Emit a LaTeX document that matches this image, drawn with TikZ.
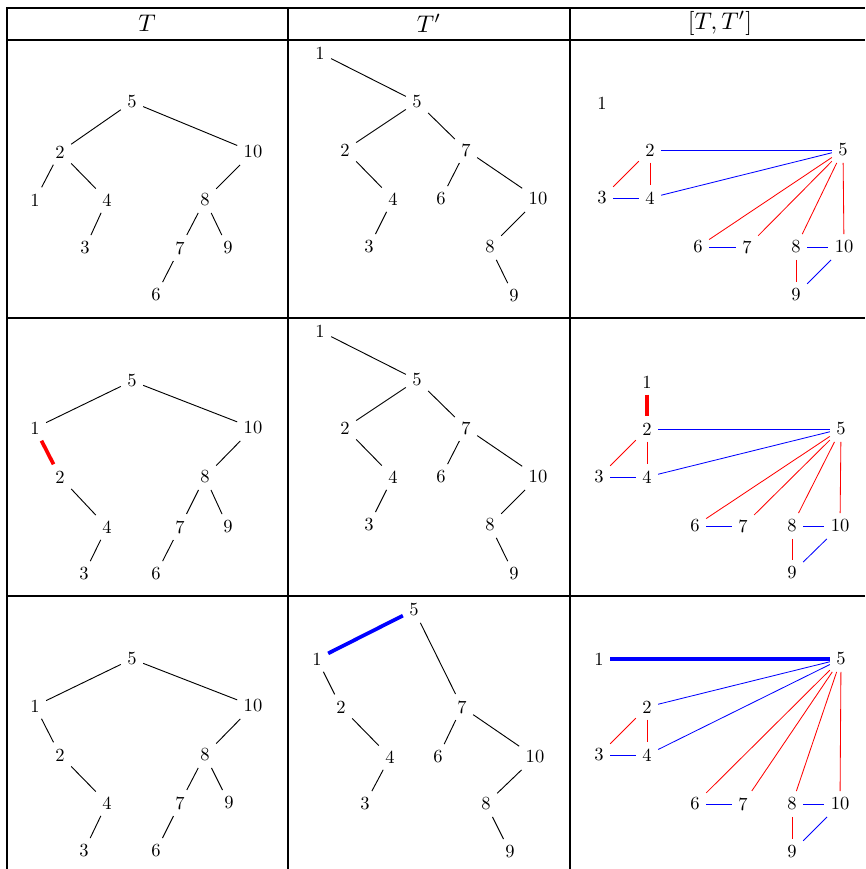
\documentclass[tikz,border=0pt]{standalone}
\begin{document}
\begin{tikzpicture}[x=0.54pt,y=-0.54pt,
  tn/.style={inner sep=0.3333em},
  hd/.style={inner sep=0pt,scale=1.3},
  rule/.style={line width=1pt,black},
  tedge/.style={line width=0.5pt,black},
  redge/.style={line width=0.45pt,red},
  bedge/.style={line width=0.45pt,blue},
  rthick/.style={line width=2pt,red},
  bthick/.style={line width=2pt,blue}]
\useasboundingbox (0,0) rectangle (865,869);
% table rules
\draw[rule] (6,8) -- (865,8);
\draw[rule] (6,40) -- (865,40);
\draw[rule] (6,318) -- (865,318);
\draw[rule] (6,596) -- (865,596);
\draw[rule] (7,8) -- (7,869);
\draw[rule] (288,8) -- (288,869);
\draw[rule] (570,8) -- (570,869);
% headers
\node[hd] (h1) at (147,23) {$T$};
\node[hd] (h2) at (429,23) {$T'$};
\node[hd] (h3) at (720,23) {$[T,T']$};

% ===== Row 1, column 1 =====
\node[tn] (a5) at (132,102) {5};
\node[tn] (a2) at (60,152) {2};
\node[tn] (a10) at (253,152) {10};
\node[tn] (a1) at (35,200) {1};
\node[tn] (a4) at (107,200) {4};
\node[tn] (a8) at (205,200) {8};
\node[tn] (a3) at (85,248) {3};
\node[tn] (a7) at (180,248) {7};
\node[tn] (a9) at (228,248) {9};
\node[tn] (a6) at (156,295) {6};
\draw[tedge] (a5) -- (a2);
\draw[tedge] (a5) -- (a10);
\draw[tedge] (a2) -- (a1);
\draw[tedge] (a2) -- (a4);
\draw[tedge] (a4) -- (a3);
\draw[tedge] (a10) -- (a8);
\draw[tedge] (a8) -- (a7);
\draw[tedge] (a8) -- (a9);
\draw[tedge] (a7) -- (a6);

% ===== Row 1, column 2 =====
\node[tn] (b1) at (320,53) {1};
\node[tn] (b5) at (417,102) {5};
\node[tn] (b2) at (345,150) {2};
\node[tn] (b7) at (466,150) {7};
\node[tn] (b4) at (393,199) {4};
\node[tn] (b6) at (441,199) {6};
\node[tn] (b10) at (538,199) {10};
\node[tn] (b3) at (369,247) {3};
\node[tn] (b8) at (490,247) {8};
\node[tn] (b9) at (514,296) {9};
\draw[tedge] (b1) -- (b5);
\draw[tedge] (b5) -- (b2);
\draw[tedge] (b5) -- (b7);
\draw[tedge] (b2) -- (b4);
\draw[tedge] (b4) -- (b3);
\draw[tedge] (b7) -- (b6);
\draw[tedge] (b7) -- (b10);
\draw[tedge] (b10) -- (b8);
\draw[tedge] (b8) -- (b9);

% ===== Row 1, column 3 =====
\node[tn] (c1) at (602,103) {1};
\node[tn] (c2) at (650,150) {2};
\node[tn] (c5) at (843,150) {5};
\node[tn] (c3) at (602,198) {3};
\node[tn] (c4) at (650,198) {4};
\node[tn] (c6) at (698,247) {6};
\node[tn] (c7) at (747,247) {7};
\node[tn] (c8) at (796,247) {8};
\node[tn] (c10) at (844,247) {10};
\node[tn] (c9) at (796,295) {9};
\draw[bedge] (c2) -- (c5);
\draw[bedge] (c4) -- (c5);
\draw[bedge] (c3) -- (c4);
\draw[redge] (c2) -- (c3);
\draw[redge] (c2) -- (c4);
\draw[redge] (c5) -- (c6);
\draw[redge] (c5) -- (c7);
\draw[redge] (c5) -- (c8);
\draw[redge] (c5) -- (c10);
\draw[bedge] (c6) -- (c7);
\draw[bedge] (c8) -- (c10);
\draw[bedge] (c9) -- (c10);
\draw[redge] (c8) -- (c9);

% ===== Row 2, column 1 =====
\node[tn] (d5) at (132,381) {5};
\node[tn] (d1) at (35,428) {1};
\node[tn] (d10) at (253,428) {10};
\node[tn] (d2) at (60,477) {2};
\node[tn] (d8) at (205,477) {8};
\node[tn] (d4) at (107,527) {4};
\node[tn] (d7) at (180,527) {7};
\node[tn] (d9) at (228,527) {9};
\node[tn] (d3) at (84,574) {3};
\node[tn] (d6) at (156,574) {6};
\draw[tedge] (d5) -- (d1);
\draw[tedge] (d5) -- (d10);
\draw[rthick] (d1) -- (d2);
\draw[tedge] (d2) -- (d4);
\draw[tedge] (d4) -- (d3);
\draw[tedge] (d10) -- (d8);
\draw[tedge] (d8) -- (d7);
\draw[tedge] (d8) -- (d9);
\draw[tedge] (d7) -- (d6);

% ===== Row 2, column 2 =====
\node[tn] (e1) at (320,331) {1};
\node[tn] (e5) at (417,380) {5};
\node[tn] (e2) at (345,428) {2};
\node[tn] (e7) at (466,428) {7};
\node[tn] (e4) at (393,477) {4};
\node[tn] (e6) at (441,477) {6};
\node[tn] (e10) at (538,477) {10};
\node[tn] (e3) at (369,525) {3};
\node[tn] (e8) at (490,525) {8};
\node[tn] (e9) at (514,574) {9};
\draw[tedge] (e1) -- (e5);
\draw[tedge] (e5) -- (e2);
\draw[tedge] (e5) -- (e7);
\draw[tedge] (e2) -- (e4);
\draw[tedge] (e4) -- (e3);
\draw[tedge] (e7) -- (e6);
\draw[tedge] (e7) -- (e10);
\draw[tedge] (e10) -- (e8);
\draw[tedge] (e8) -- (e9);

% ===== Row 2, column 3 =====
\node[tn] (f1) at (647,382) {1};
\node[tn] (f2) at (647,429) {2};
\node[tn] (f5) at (841,429) {5};
\node[tn] (f3) at (599,477) {3};
\node[tn] (f4) at (647,477) {4};
\node[tn] (f6) at (695,526) {6};
\node[tn] (f7) at (743,526) {7};
\node[tn] (f8) at (792,526) {8};
\node[tn] (f10) at (840,526) {10};
\node[tn] (f9) at (792,573) {9};
\draw[rthick] (f1) -- (f2);
\draw[bedge] (f2) -- (f5);
\draw[bedge] (f4) -- (f5);
\draw[bedge] (f3) -- (f4);
\draw[redge] (f2) -- (f3);
\draw[redge] (f2) -- (f4);
\draw[redge] (f5) -- (f6);
\draw[redge] (f5) -- (f7);
\draw[redge] (f5) -- (f8);
\draw[redge] (f5) -- (f10);
\draw[bedge] (f6) -- (f7);
\draw[bedge] (f8) -- (f10);
\draw[bedge] (f9) -- (f10);
\draw[redge] (f8) -- (f9);

% ===== Row 3, column 1 =====
\node[tn] (g5) at (132,659) {5};
\node[tn] (g1) at (35,706) {1};
\node[tn] (g10) at (253,706) {10};
\node[tn] (g2) at (60,755) {2};
\node[tn] (g8) at (205,755) {8};
\node[tn] (g4) at (107,803) {4};
\node[tn] (g7) at (180,803) {7};
\node[tn] (g9) at (229,803) {9};
\node[tn] (g3) at (84,851) {3};
\node[tn] (g6) at (156,851) {6};
\draw[tedge] (g5) -- (g1);
\draw[tedge] (g5) -- (g10);
\draw[tedge] (g1) -- (g2);
\draw[tedge] (g2) -- (g4);
\draw[tedge] (g4) -- (g3);
\draw[tedge] (g10) -- (g8);
\draw[tedge] (g8) -- (g7);
\draw[tedge] (g8) -- (g9);
\draw[tedge] (g7) -- (g6);

% ===== Row 3, column 2 =====
\node[tn] (h5) at (414,610) {5};
\node[tn] (h1n) at (317,659) {1};
\node[tn] (h2n) at (341,707) {2};
\node[tn] (h7) at (462,707) {7};
\node[tn] (h4) at (390,757) {4};
\node[tn] (h6) at (438,757) {6};
\node[tn] (h10) at (535,757) {10};
\node[tn] (h3n) at (365,804) {3};
\node[tn] (h8) at (486,804) {8};
\node[tn] (h9) at (510,852) {9};
\draw[bthick] (h5) -- (h1n);
\draw[tedge] (h1n) -- (h2n);
\draw[tedge] (h5) -- (h7);
\draw[tedge] (h2n) -- (h4);
\draw[tedge] (h4) -- (h3n);
\draw[tedge] (h7) -- (h6);
\draw[tedge] (h7) -- (h10);
\draw[tedge] (h10) -- (h8);
\draw[tedge] (h8) -- (h9);

% ===== Row 3, column 3 =====
\node[tn] (i1) at (599,659) {1};
\node[tn] (i5) at (841,659) {5};
\node[tn] (i2) at (647,707) {2};
\node[tn] (i3) at (599,755) {3};
\node[tn] (i4) at (647,755) {4};
\node[tn] (i6) at (695,804) {6};
\node[tn] (i7) at (743,804) {7};
\node[tn] (i8) at (792,804) {8};
\node[tn] (i10) at (840,804) {10};
\node[tn] (i9) at (792,852) {9};
\draw[bthick] (i1) -- (i5);
\draw[bedge] (i2) -- (i5);
\draw[bedge] (i4) -- (i5);
\draw[bedge] (i3) -- (i4);
\draw[redge] (i2) -- (i3);
\draw[redge] (i2) -- (i4);
\draw[redge] (i5) -- (i6);
\draw[redge] (i5) -- (i7);
\draw[redge] (i5) -- (i8);
\draw[redge] (i5) -- (i10);
\draw[bedge] (i6) -- (i7);
\draw[bedge] (i8) -- (i10);
\draw[bedge] (i9) -- (i10);
\draw[redge] (i8) -- (i9);
\end{tikzpicture}
\end{document}
